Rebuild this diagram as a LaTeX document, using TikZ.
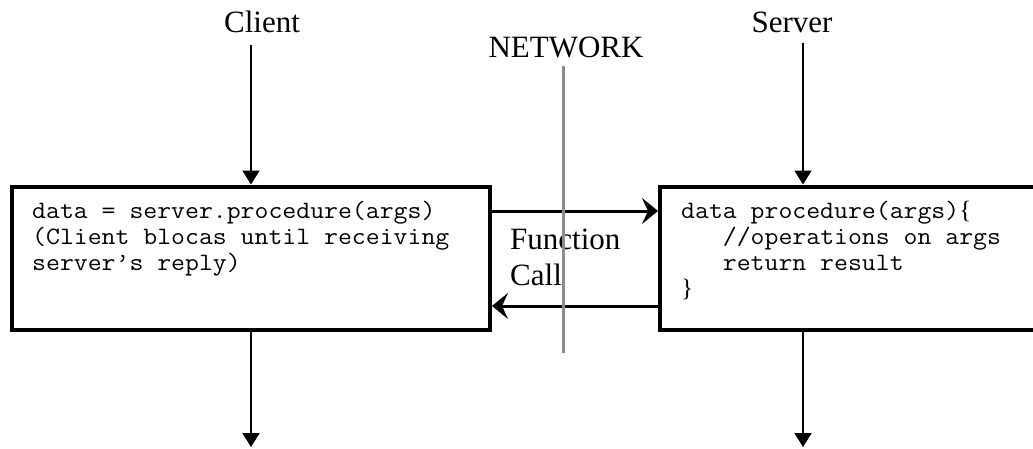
\documentclass[tikz,border=0pt]{standalone}
\usepackage{fontspec}
\setmainfont{Liberation Serif}
\setmonofont[FakeStretch=1.08]{Latin Modern Mono}
\usetikzlibrary{arrows.meta}

\begin{document}
\begin{tikzpicture}[x=1pt,y=-1pt,
  box/.style={draw, line width=4pt, minimum height=143pt, inner sep=0pt},
  title/.style={inner sep=0pt, anchor=base, font=\fontsize{31}{36}\selectfont},
  code/.style={inner sep=0pt, anchor=base west, font=\fontsize{25}{26}\selectfont\ttfamily},
  flowarrow/.style={line width=2pt, -{Triangle[length=14pt,width=17pt]}},
  callarrow/.style={line width=3pt, -{Stealth[length=16pt,width=26pt,inset=6pt]}},
  netline/.style={line width=3pt, draw=black!45}
]
\useasboundingbox (0,0) rectangle (1033,448);
\clip (0,0) rectangle (1033,448);

% client and server boxes
\node[box, minimum width=478pt] (lbox) at (251,258) {};
\node[box, minimum width=440pt] (rbox) at (880,258) {};

% headings
\node[title] (client) at (262,32) {Client};
\node[title] (server) at (792,32) {Server};
\node[title] (network) at (566,57) {NETWORK};

% code inside the boxes
\node[code] (lcode) at (32,218) {\begin{tabular}[t]{@{}l@{}}
data = server.procedure(args)\\
(Client blocas until receiving\\
server’s reply)
\end{tabular}};
\node[code] (rcode) at (681,218) {\begin{tabular}[t]{@{}l@{}}
data procedure(args){\rmfamily\{}\\
\hphantom{xxx}//operations on args\\
\hphantom{xxx}return result\\
{\rmfamily\}}
\end{tabular}};

% call label
\node[inner sep=0pt, anchor=base west, font=\fontsize{31}{36}\selectfont] (fcall) at (510,249)
  {\begin{tabular}[t]{@{}l@{}}Function\\Call\end{tabular}};

% flow in and out of each side
\coordinate (ctop) at (251,45);
\coordinate (cbot) at (251,447);
\coordinate (stop) at (803,43);
\coordinate (sbot) at (803,447);
\draw[flowarrow] (ctop) -- (lbox.north);
\draw[flowarrow] (lbox.south) -- (cbot);
\draw[flowarrow] (stop) -- (rbox.north -| stop);
\draw[flowarrow] (rbox.south -| sbot) -- (sbot);

% request and reply across the network
\coordinate (callrow) at (0,211);
\coordinate (replyrow) at (0,306);
\draw[callarrow] (lbox.east |- callrow) -- (rbox.west |- callrow);
\draw[callarrow] (rbox.west |- replyrow) -- (lbox.east |- replyrow);

% network boundary
\coordinate (ntop) at (563,66);
\coordinate (nbot) at (563,353);
\draw[netline] (ntop) -- (nbot);
\end{tikzpicture}
\end{document}
